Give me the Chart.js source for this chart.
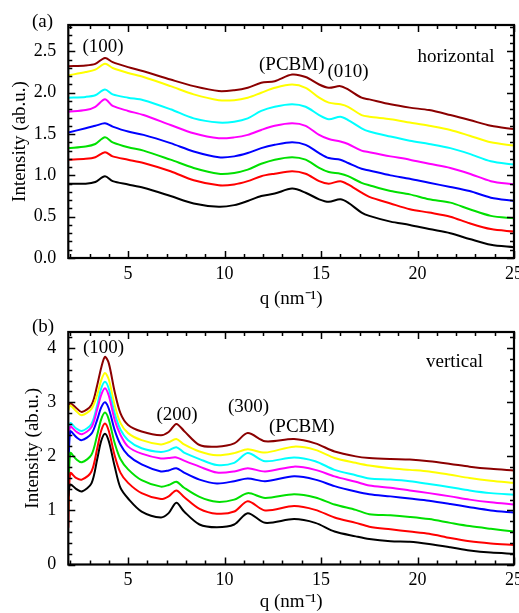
<!DOCTYPE html>
<html><head><meta charset="utf-8">
<script src="https://cdn.jsdelivr.net/npm/chart.js@4"></script>
<style>
html,body{margin:0;padding:0;background:#fff;}
body{width:519px;height:613px;position:relative;overflow:hidden;font-family:'Liberation Serif','Times New Roman',serif;}
.panel{position:absolute;left:0;width:519px;}
.lbl{position:absolute;font-size:19px;line-height:19px;white-space:nowrap;color:#000;}
</style></head><body>
<div class="panel" style="top:0;height:312px"><canvas id="c1" width="519" height="312"></canvas></div>
<div class="panel" style="top:312px;height:301px"><canvas id="c2" width="519" height="301"></canvas></div>
<div class="lbl" style="left:32px;top:10.7px">(a)</div>
<div class="lbl" style="left:82.5px;top:35.7px">(100)</div>
<div class="lbl" style="left:259px;top:54px">(PCBM)</div>
<div class="lbl" style="left:327.5px;top:60.7px">(010)</div>
<div class="lbl" style="left:417.5px;top:45.8px">horizontal</div>
<div class="lbl" style="left:32px;top:315.7px">(b)</div>
<div class="lbl" style="left:83px;top:336.6px">(100)</div>
<div class="lbl" style="left:156.5px;top:403.6px">(200)</div>
<div class="lbl" style="left:228px;top:395.7px">(300)</div>
<div class="lbl" style="left:269px;top:415.7px">(PCBM)</div>
<div class="lbl" style="left:426px;top:350.8px">vertical</div>
<script>
// ---------- DATA ----------
const seriesNames = ['s1','s2','s3','s4','s5','s6','s7','s8'];
const seriesColors = ['#000000','#ff0000','#00e000','#0000ff','#ff00ff','#00ffff','#ffff00','#8b0000'];

// (a) horizontal
const qH = [1.9, 2.8, 3.3, 3.8, 4.2, 5.0, 5.8, 7.2, 8.4, 9.7, 10.5, 11.2, 11.9, 12.6, 13.5, 14.2, 14.9, 15.4, 16.0, 16.4, 17.1, 17.5, 18.6, 19.6, 20.6, 21.7, 22.7, 23.8, 25.0];
const hBlack   = [0.90,0.90,0.92,0.99,0.93,0.89,0.85,0.75,0.66,0.62, 0.64,0.69,0.75,0.78,0.84,0.79,0.71,0.68,0.71,0.67,0.55, 0.51,0.44,0.40,0.35,0.30,0.23,0.16,0.13];
const hRed     = [1.19,1.20,1.22,1.28,1.23,1.19,1.15,1.05,0.94,0.88, 0.89,0.93,0.99,1.02,1.05,1.02,0.93,0.90,0.93,0.89,0.79, 0.74,0.66,0.59,0.55,0.50,0.42,0.35,0.32];
const hGreen   = [1.33,1.35,1.38,1.46,1.40,1.34,1.30,1.19,1.09,1.02, 1.03,1.07,1.14,1.19,1.22,1.19,1.09,1.04,1.02,0.99,0.91, 0.88,0.81,0.77,0.71,0.67,0.59,0.51,0.48];
const hBlue    = [1.52,1.57,1.60,1.63,1.59,1.53,1.49,1.39,1.29,1.22, 1.23,1.27,1.33,1.37,1.40,1.37,1.27,1.21,1.19,1.15,1.08, 1.06,1.00,0.96,0.91,0.86,0.81,0.73,0.69];
const hMagenta = [1.77,1.79,1.83,1.92,1.84,1.78,1.73,1.61,1.51,1.45, 1.46,1.49,1.55,1.60,1.63,1.60,1.49,1.44,1.41,1.38,1.30, 1.28,1.23,1.19,1.14,1.09,1.02,0.93,0.89];
const hCyan    = [1.94,1.95,1.97,2.04,1.98,1.94,1.91,1.80,1.69,1.64, 1.65,1.69,1.78,1.83,1.86,1.83,1.73,1.68,1.71,1.67,1.57, 1.53,1.47,1.42,1.38,1.33,1.26,1.17,1.13];
const hYellow  = [2.21,2.25,2.28,2.35,2.30,2.24,2.19,2.08,1.98,1.91, 1.91,1.94,2.00,2.06,2.10,2.06,1.94,1.88,1.86,1.83,1.73, 1.71,1.68,1.64,1.60,1.55,1.48,1.40,1.36];
const hBrown   = [2.32,2.33,2.35,2.42,2.37,2.31,2.26,2.16,2.08,2.02, 2.03,2.06,2.12,2.14,2.22,2.19,2.10,2.06,2.08,2.04,1.94, 1.92,1.86,1.82,1.79,1.73,1.67,1.60,1.56];

// (b) vertical
const qV = [1.9, 2.0, 2.3, 2.6, 3.1, 3.4, 3.6, 3.8, 4.0, 4.3, 4.6, 5.0, 5.7, 6.7, 7.1, 7.5, 7.9, 8.7, 9.6, 10.5, 11.2, 12.1, 13.6, 14.7, 15.7, 16.8, 17.5, 18.6, 19.6, 20.6, 21.7, 22.7, 23.8, 25.0];
const vBlack   = [1.26,1.48,1.40,1.35,1.50,1.95,2.28,2.42,2.28,1.82,1.42,1.22,0.98,0.87,0.95,1.14,0.98,0.74,0.69,0.74,0.95,0.77,0.84,0.77,0.61,0.52,0.47,0.43,0.42,0.38,0.32,0.26,0.22,0.20];
const vRed     = [0.68,1.69,1.60,1.57,1.72,2.15,2.47,2.61,2.47,2.02,1.70,1.51,1.32,1.21,1.26,1.37,1.25,1.03,0.94,0.98,1.17,1.00,1.08,1.01,0.87,0.77,0.70,0.65,0.61,0.57,0.49,0.43,0.39,0.36];
const vGreen   = [0.98,2.06,1.95,1.89,2.03,2.40,2.68,2.81,2.68,2.25,1.95,1.76,1.56,1.44,1.47,1.53,1.42,1.25,1.16,1.20,1.32,1.23,1.30,1.24,1.11,1.01,0.93,0.91,0.88,0.84,0.77,0.71,0.66,0.61];
const vBlue    = [1.45,2.46,2.36,2.30,2.42,2.68,2.90,3.00,2.88,2.49,2.22,2.02,1.85,1.72,1.74,1.78,1.70,1.57,1.50,1.54,1.59,1.54,1.63,1.57,1.45,1.35,1.30,1.26,1.22,1.18,1.12,1.06,1.00,0.96];
const vMagenta = [2.25,2.55,2.46,2.41,2.54,2.87,3.13,3.26,3.12,2.68,2.40,2.18,2.05,1.96,1.97,1.98,1.92,1.81,1.70,1.72,1.78,1.72,1.81,1.75,1.63,1.53,1.46,1.42,1.37,1.32,1.26,1.20,1.15,1.11];
const vCyan    = [1.94,2.61,2.52,2.47,2.60,2.95,3.25,3.38,3.25,2.80,2.50,2.30,2.15,2.08,2.11,2.17,2.07,1.95,1.84,1.88,2.06,1.91,1.98,1.91,1.75,1.65,1.59,1.57,1.54,1.49,1.43,1.37,1.32,1.29];
const vYellow  = [2.85,2.94,2.84,2.76,2.88,3.14,3.40,3.54,3.42,2.95,2.62,2.43,2.30,2.22,2.26,2.32,2.22,2.09,2.02,2.06,2.13,2.07,2.18,2.12,1.97,1.88,1.83,1.78,1.75,1.72,1.66,1.60,1.55,1.51];
const vBrown   = [2.90,2.98,2.90,2.82,2.95,3.32,3.63,3.84,3.72,3.20,2.80,2.58,2.46,2.39,2.45,2.60,2.47,2.21,2.18,2.24,2.43,2.28,2.32,2.24,2.09,2.00,1.97,1.95,1.94,1.91,1.86,1.81,1.77,1.74];

// ticks
const xTickValues = [5, 10, 15, 20, 25];
const xTickLabels = ['5', '10', '15', '20', '25'];
const yTickValuesH = [0, 0.5, 1.0, 1.5, 2.0, 2.5];
const yTickLabelsH = ['0.0', '0.5', '1.0', '1.5', '2.0', '2.5'];
const yTickValuesV = [0, 1, 2, 3, 4];
const yTickLabelsV = ['0', '1', '2', '3', '4'];
const xTitle = 'q (nm\u207B\u00B9)';
const yTitle = 'Intensity (ab.u.)';

// ---------- RENDER ----------
const FONT = "'Liberation Serif', 'Times New Roman', serif";
function range(a, b, step) { const r = []; const n = Math.round((b - a) / step); for (let i = 0; i <= n; i++) r.push(+(a + i * step).toFixed(4)); return r; }

const frameTicks = {
  id: 'frameTicks',
  afterDatasetsDraw(chart, args, o) {
    const { ctx, chartArea: a, scales: { x, y } } = chart;
    ctx.save();
    ctx.strokeStyle = '#000';
    ctx.lineWidth = 1.5;
    ctx.beginPath();
    const vt = (v, len) => { const p = Math.round(x.getPixelForValue(v)) + 0.5; ctx.moveTo(p, a.bottom); ctx.lineTo(p, a.bottom - len); ctx.moveTo(p, a.top); ctx.lineTo(p, a.top + len); };
    const ht = (v, len) => { const p = Math.round(y.getPixelForValue(v)) + 0.5; ctx.moveTo(a.left, p); ctx.lineTo(a.left + len, p); ctx.moveTo(a.right, p); ctx.lineTo(a.right - len, p); };
    o.xMinor.forEach(v => vt(v, 4));
    o.xMajor.forEach(v => vt(v, 7));
    o.yMinor.forEach(v => ht(v, 4));
    o.yMajor.forEach(v => ht(v, 7));
    ctx.stroke();
    ctx.lineWidth = 2.2;
    ctx.strokeRect(a.left, a.top, a.right - a.left, a.bottom - a.top);
    ctx.restore();
  }
};

function makeChart(id, q, arrays, cfg) {
  const datasets = arrays.map((arr, i) => ({
    label: seriesNames[i],
    data: q.map((xv, j) => ({ x: xv, y: arr[j] })),
    borderColor: seriesColors[i],
    backgroundColor: seriesColors[i],
    borderWidth: 2,
    pointRadius: 0,
    fill: false,
    tension: 0.3
  }));
  return new Chart(document.getElementById(id), {
    type: 'line',
    data: { datasets },
    options: {
      responsive: false,
      animation: false,
      events: [],
      layout: { padding: cfg.padding },
      plugins: {
        legend: { display: false },
        tooltip: { enabled: false },
        frameTicks: { xMinor: range(2, 24, 1), xMajor: xTickValues, yMinor: cfg.yMinor, yMajor: cfg.yTicks }
      },
      scales: {
        x: {
          type: 'linear', min: 1.9, max: 25,
          grid: { display: false, drawTicks: false },
          border: { display: false },
          ticks: {
            color: '#000', font: { family: FONT, size: 18 }, padding: 5, maxRotation: 0, autoSkip: false,
            callback: v => { const k = xTickValues.indexOf(v); return k >= 0 ? xTickLabels[k] : ''; }
          },
          afterBuildTicks: s => { s.ticks = xTickValues.map(v => ({ value: v })); },
          afterFit: s => { s.height = cfg.xh; s.paddingLeft = 0; s.paddingRight = 0; },
          title: { display: true, text: xTitle, color: '#000', font: { family: FONT, size: 19 }, padding: { top: 0, bottom: 0 } }
        },
        y: {
          type: 'linear', min: 0, max: cfg.ymax,
          grid: { display: false, drawTicks: false },
          border: { display: false },
          ticks: {
            color: '#000', font: { family: FONT, size: 18 }, padding: 12,
            callback: v => { const k = cfg.yTicks.indexOf(v); return k >= 0 ? cfg.yLabels[k] : ''; }
          },
          afterBuildTicks: s => { s.ticks = cfg.yTicks.map(v => ({ value: v })); },
          afterFit: s => { s.width = cfg.yw; s.paddingTop = 0; s.paddingBottom = 0; },
          title: { display: true, text: yTitle, color: '#000', font: { family: FONT, size: 19 }, padding: { top: 0, bottom: 0 } }
        }
      }
    },
    plugins: [frameTicks]
  });
}

makeChart('c1', qH, [hBlack, hRed, hGreen, hBlue, hMagenta, hCyan, hYellow, hBrown], {
  padding: { left: 8.6, top: 25, right: 5, bottom: 1.6 },
  xh: 52.4, yw: 59.7, ymax: 2.82,
  yTicks: yTickValuesH, yLabels: yTickLabelsH, yMinor: range(0.1, 2.8, 0.1)
});
makeChart('c2', qV, [vBlack, vRed, vGreen, vBlue, vMagenta, vCyan, vYellow, vBrown], {
  padding: { left: 22, top: 20, right: 5, bottom: 0 },
  xh: 48.5, yw: 46.3, ymax: 4.3,
  yTicks: yTickValuesV, yLabels: yTickLabelsV, yMinor: range(0.2, 4.2, 0.2)
});
</script>
</body></html>
